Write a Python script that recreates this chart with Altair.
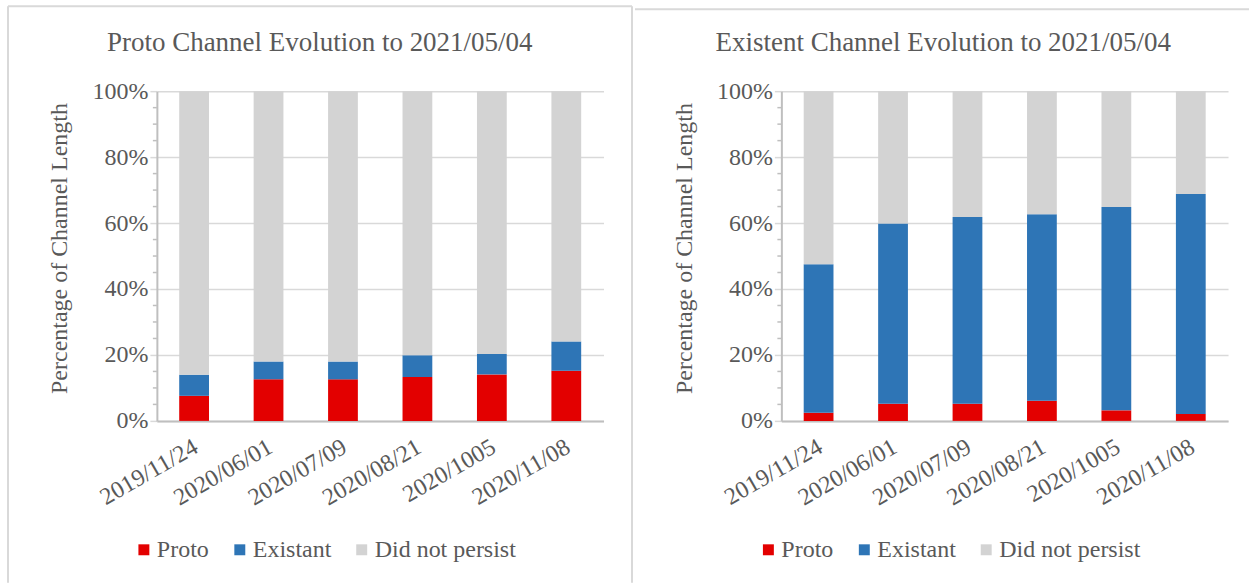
import altair as alt
import pandas as pd

# Survey dates on the category axis
dates = ["2019/11/24", "2020/06/01", "2020/07/09", "2020/08/21", "2020/1005", "2020/11/08"]
categories = ["Proto", "Existant", "Did not persist"]
colors = ["#e30000", "#2e75b6", "#d3d3d3"]

# Share of channel length (%) for channels that started as proto channels
proto_channel_proto = [7.6, 12.6, 12.6, 13.3, 14.1, 15.2]
proto_channel_existant = [6.4, 5.4, 5.4, 6.6, 6.2, 8.9]

# Share of channel length (%) for channels that started as existent channels
existent_channel_proto = [2.5, 5.2, 5.2, 6.1, 3.2, 2.1]
existent_channel_existant = [45.0, 54.7, 56.6, 56.6, 61.7, 66.7]

major_ticks = [0, 20, 40, 60, 80, 100]
minor_ticks = [5, 10, 15, 25, 30, 35, 45, 50, 55, 65, 70, 75, 85, 90, 95]

FONT = "Liberation Serif"
TEXT = "#595959"
GRID = "#d9d9d9"
AXIS = "#bfbfbf"
PLOT_W, PLOT_H = 447, 330


def long_table(proto, existant):
    rows = []
    for i, d in enumerate(dates):
        parts = [proto[i], existant[i], 100 - proto[i] - existant[i]]
        for k, (cat, v) in enumerate(zip(categories, parts)):
            rows.append({"date": d, "series": cat, "pct": v, "rank": k})
    return pd.DataFrame(rows)


one_row = pd.DataFrame({"k": [0]})


def panel(title, proto, existant, title_x, borders, legend_x):
    bars = alt.Chart(long_table(proto, existant)).mark_bar().encode(
        x=alt.X(
            "date:N",
            sort=dates,
            scale=alt.Scale(paddingInner=0.6, paddingOuter=0.3),
            axis=alt.Axis(
                title=None, labelAngle=-30, labelAlign="right", labelBaseline="middle",
                labelFont=FONT, labelFontSize=24, labelColor=TEXT,
                ticks=False, tickSize=0, labelPadding=24, labelOffset=2,
                domainColor=AXIS, domainWidth=2,
            ),
        ),
        y=alt.Y(
            "pct:Q",
            stack="zero",
            scale=alt.Scale(domain=[0, 100], nice=False),
            axis=alt.Axis(
                values=major_ticks, labelExpr="datum.value + '%'",
                title="Percentage of Channel Length", titleFont=FONT, titleFontSize=24,
                titleFontWeight="normal", titleColor=TEXT, titlePadding=20, titleY=157,
                labelFont=FONT, labelFontSize=24, labelColor=TEXT, labelPadding=2,
                tickSize=7, tickColor=GRID, tickWidth=1.5,
                domainColor=AXIS, domainWidth=2,
                grid=True, gridColor=GRID, gridWidth=1.5,
            ),
        ),
        color=alt.Color(
            "series:N",
            scale=alt.Scale(domain=categories, range=colors),
            legend=alt.Legend(
                orient="none", legendX=legend_x, legendY=447, direction="horizontal",
                title=None, symbolType="square", symbolSize=120, symbolStrokeWidth=0,
                labelFont=FONT, labelFontSize=24, labelColor=TEXT, labelOffset=1,
                columnPadding=18, padding=0,
            ),
        ),
        order=alt.Order("rank:Q", sort="ascending"),
    )

    # short minor ticks every 5% along the value axis
    minor = alt.Chart(pd.DataFrame({"pct": minor_ticks})).mark_rule(
        color=AXIS, strokeWidth=1.5
    ).encode(
        y=alt.Y("pct:Q"),
        x=alt.value(-4),
        x2=alt.value(0),
    )

    heading = alt.Chart(one_row).mark_text(
        font=FONT, fontSize=27, color=TEXT
    ).encode(
        x=alt.value(title_x), y=alt.value(-48), text=alt.value(title)
    )

    frame_layers = []
    for (x1, x2, y1, y2, col) in borders:
        frame_layers.append(
            alt.Chart(one_row).mark_rule(color=col, strokeWidth=2).encode(
                x=alt.value(x1), x2=alt.value(x2), y=alt.value(y1), y2=alt.value(y2)
            )
        )

    return alt.layer(bars, minor, heading, *frame_layers).properties(
        width=PLOT_W, height=PLOT_H
    )


left = panel(
    "Proto Channel Evolution to 2021/05/04",
    proto_channel_proto, proto_channel_existant,
    163,
    [
        (-149, 475.5, -85, -85, GRID),
        (-149, -149, -85, 492, GRID),
        (475.5, 475.5, -85, 492, GRID),
    ],
    -25,
)

right = panel(
    "Existent Channel Evolution to 2021/05/04",
    existent_channel_proto, existent_channel_existant,
    162,
    [
        (-140, 460, -85, -85, "#ffffff"),
        (-146.5, 468, -82, -82, GRID),
    ],
    -25,
)

chart = alt.hconcat(left, right, spacing=0).resolve_scale(
    color="independent"
).properties(
    padding={"left": 7, "top": 5, "right": 0, "bottom": 0}
).configure_view(stroke=None)

chart.save("out.html", embed_options={"renderer": "svg", "actions": False})
